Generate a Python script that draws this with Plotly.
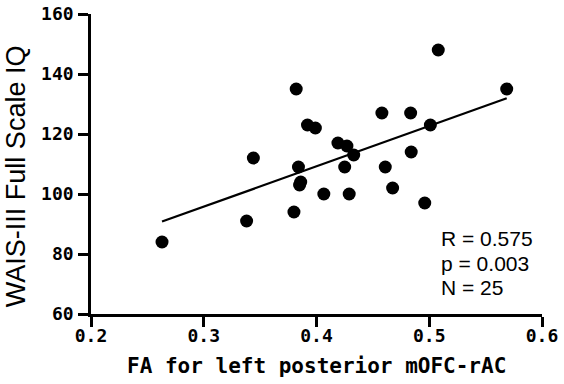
import numpy as np
import plotly.graph_objects as go

fa = [0.263, 0.338, 0.344, 0.380, 0.382, 0.384, 0.386, 0.385, 0.392, 0.399,
      0.4065, 0.419, 0.427, 0.425, 0.429, 0.433, 0.458, 0.461, 0.4675, 0.4835,
      0.484, 0.496, 0.501, 0.508, 0.5687]
iq = [84, 91, 112, 94, 135, 109, 104, 103, 123, 122,
      100, 117, 116, 109, 100, 113, 127, 109, 102, 127,
      114, 97, 123, 148, 135]
x_ticks = [0.2, 0.3, 0.4, 0.5, 0.6]
y_ticks = [60, 80, 100, 120, 140, 160]
stats_text = ["R = 0.575", "p = 0.003", "N = 25"]
stats_y = [85.3, 77.0, 68.7]

slope, intercept = np.polyfit(fa, iq, 1)
fit_x = [min(fa), max(fa)]
fit_y = [slope * v + intercept for v in fit_x]

fig = go.Figure()
fig.add_trace(go.Scatter(x=fit_x, y=fit_y, mode="lines",
                         line=dict(color="black", width=2.2), hoverinfo="skip"))
fig.add_trace(go.Scatter(x=fa, y=iq, mode="markers",
                         marker=dict(color="black", size=13, line=dict(width=0))))

axis_common = dict(showline=True, linecolor="black", linewidth=2.6,
                   ticks="outside", ticklen=10, tickwidth=2.6, tickcolor="black",
                   showgrid=False, zeroline=False, automargin=False,
                   ticklabeloverflow="allow",
                   tickfont=dict(family="DejaVu Sans Mono", size=18, color="black", weight="bold"))

fig.update_xaxes(range=[0.2, 0.6], tickvals=x_ticks,
                 ticktext=[f"{v:.1f}" for v in x_ticks], ticklabelstandoff=-6,
                 **axis_common)
fig.update_yaxes(range=[60, 160], tickvals=y_ticks,
                 ticktext=[str(v) for v in y_ticks], ticklabelstandoff=1,
                 **axis_common)

fig.add_annotation(text="FA for left posterior mOFC-rAC",
                   xref="paper", yref="paper", x=0.5, y=-0.172,
                   xanchor="center", yanchor="middle", showarrow=False,
                   font=dict(family="DejaVu Sans Mono", size=21, color="black", weight="bold"))

fig.add_annotation(text="WAIS-III Full Scale IQ", textangle=-90,
                   xref="paper", yref="paper", x=-0.166, y=0.46,
                   xanchor="center", yanchor="middle", showarrow=False,
                   font=dict(family="Liberation Sans", size=27, color="black"))

for txt, yv in zip(stats_text, stats_y):
    fig.add_annotation(text=txt, xref="x", yref="y",
                       x=0.5085, y=yv, xanchor="left", yanchor="middle", align="left",
                       showarrow=False,
                       font=dict(family="Liberation Sans", size=21, color="black"))

fig.update_layout(width=564, height=384, showlegend=False,
                  plot_bgcolor="white", paper_bgcolor="white",
                  margin=dict(l=91, r=22, t=14, b=70))

# remove the default 8px body margin so the figure sits at the window origin
fig.write_html("out.html", config={"displayModeBar": False},
               post_script="document.body.style.margin='0';")
